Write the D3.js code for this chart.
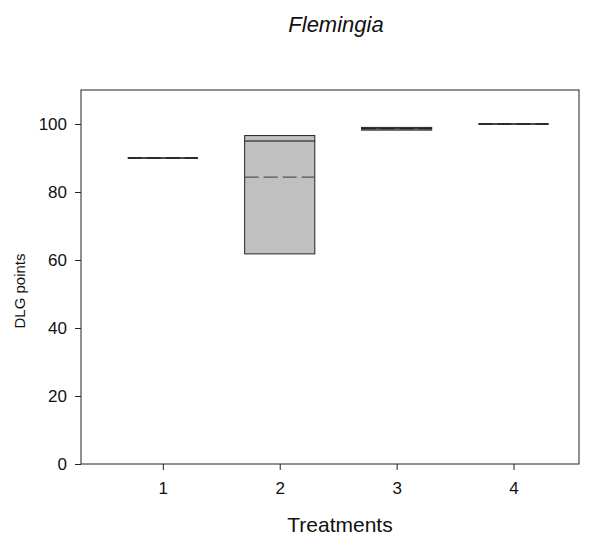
<!DOCTYPE html>
<html>
<head>
<meta charset="utf-8">
<script src="https://cdn.jsdelivr.net/npm/d3@7"></script>
<style>
  html, body { margin: 0; padding: 0; background: #fff; }
  svg { display: block; font-family: Arial, "Liberation Sans", sans-serif; }
</style>
</head>
<body>
<svg id="chart" width="597" height="536"></svg>
<script>
// Box summaries per treatment (DLG points)
const treatments = [1, 2, 3, 4];
const q1Values     = [90, 61.8, 98.2, 100];
const medianValues = [90, 95.0, 98.6, 100];
const q3Values     = [90, 96.6, 99.0, 100];
const meanValues   = [90, 84.4, 98.6, 100];
const yTicks = [0, 20, 40, 60, 80, 100];

const svg = d3.select("#chart");
const plotLeft = 81, plotRight = 579, plotTop = 90, plotBottom = 464;

const x = d3.scaleLinear().domain([0.3, 4.56]).range([plotLeft, plotRight]);
const y = d3.scaleLinear().domain([0, 110]).range([plotBottom, plotTop]);
const halfW = 0.3;

const rows = treatments.map((t, i) => ({
  t, q1: q1Values[i], med: medianValues[i], q3: q3Values[i], mean: meanValues[i]
}));

// Boxes
const g = svg.append("g");
rows.forEach(d => {
  const x0 = x(d.t - halfW), x1 = x(d.t + halfW);
  if (d.q3 > d.q1) {
    g.append("rect")
      .attr("x", x0).attr("y", y(d.q3))
      .attr("width", x1 - x0).attr("height", y(d.q1) - y(d.q3))
      .attr("fill", "#c0c0c0").attr("stroke", "#222").attr("stroke-width", 1);
  }
  // mean (dashed)
  g.append("line")
    .attr("x1", x0).attr("x2", x1)
    .attr("y1", y(d.mean)).attr("y2", y(d.mean))
    .attr("stroke", "#555").attr("stroke-width", 1.3)
    .attr("stroke-dasharray", "14,5");
  // median (solid)
  g.append("line")
    .attr("x1", x0).attr("x2", x1)
    .attr("y1", y(d.med)).attr("y2", y(d.med))
    .attr("stroke", "#111").attr("stroke-width", d.q3 > d.q1 ? 1 : 1.4);
});

// Plot frame
svg.append("rect")
  .attr("x", plotLeft).attr("y", plotTop)
  .attr("width", plotRight - plotLeft).attr("height", plotBottom - plotTop)
  .attr("fill", "none").attr("stroke", "#222").attr("stroke-width", 1);

// Axes
const yAxis = d3.axisLeft(y).tickValues(yTicks).tickSize(6).tickPadding(8);
const yg = svg.append("g").attr("transform", `translate(${plotLeft},0)`).call(yAxis);
const xAxis = d3.axisBottom(x).tickValues(treatments).tickFormat(d3.format("d")).tickSize(6).tickPadding(12);
const xg = svg.append("g").attr("transform", `translate(0,${plotBottom})`).call(xAxis);
[yg, xg].forEach(a => {
  a.select(".domain").remove();
  a.selectAll(".tick line").attr("stroke", "#222");
  a.selectAll(".tick text").attr("font-size", 17).attr("fill", "#111")
    .attr("font-family", "Arial, 'Liberation Sans', sans-serif");
});

// Titles
svg.append("text")
  .attr("x", 336).attr("y", 32)
  .attr("text-anchor", "middle")
  .attr("font-size", 22).attr("font-style", "italic").attr("fill", "#111")
  .text("Flemingia");

svg.append("text")
  .attr("x", 340).attr("y", 532)
  .attr("text-anchor", "middle")
  .attr("font-size", 21).attr("fill", "#111")
  .text("Treatments");

svg.append("text")
  .attr("transform", "translate(25,291) rotate(-90)")
  .attr("text-anchor", "middle")
  .attr("font-size", 15).attr("fill", "#111")
  .text("DLG points");
</script>
</body>
</html>
